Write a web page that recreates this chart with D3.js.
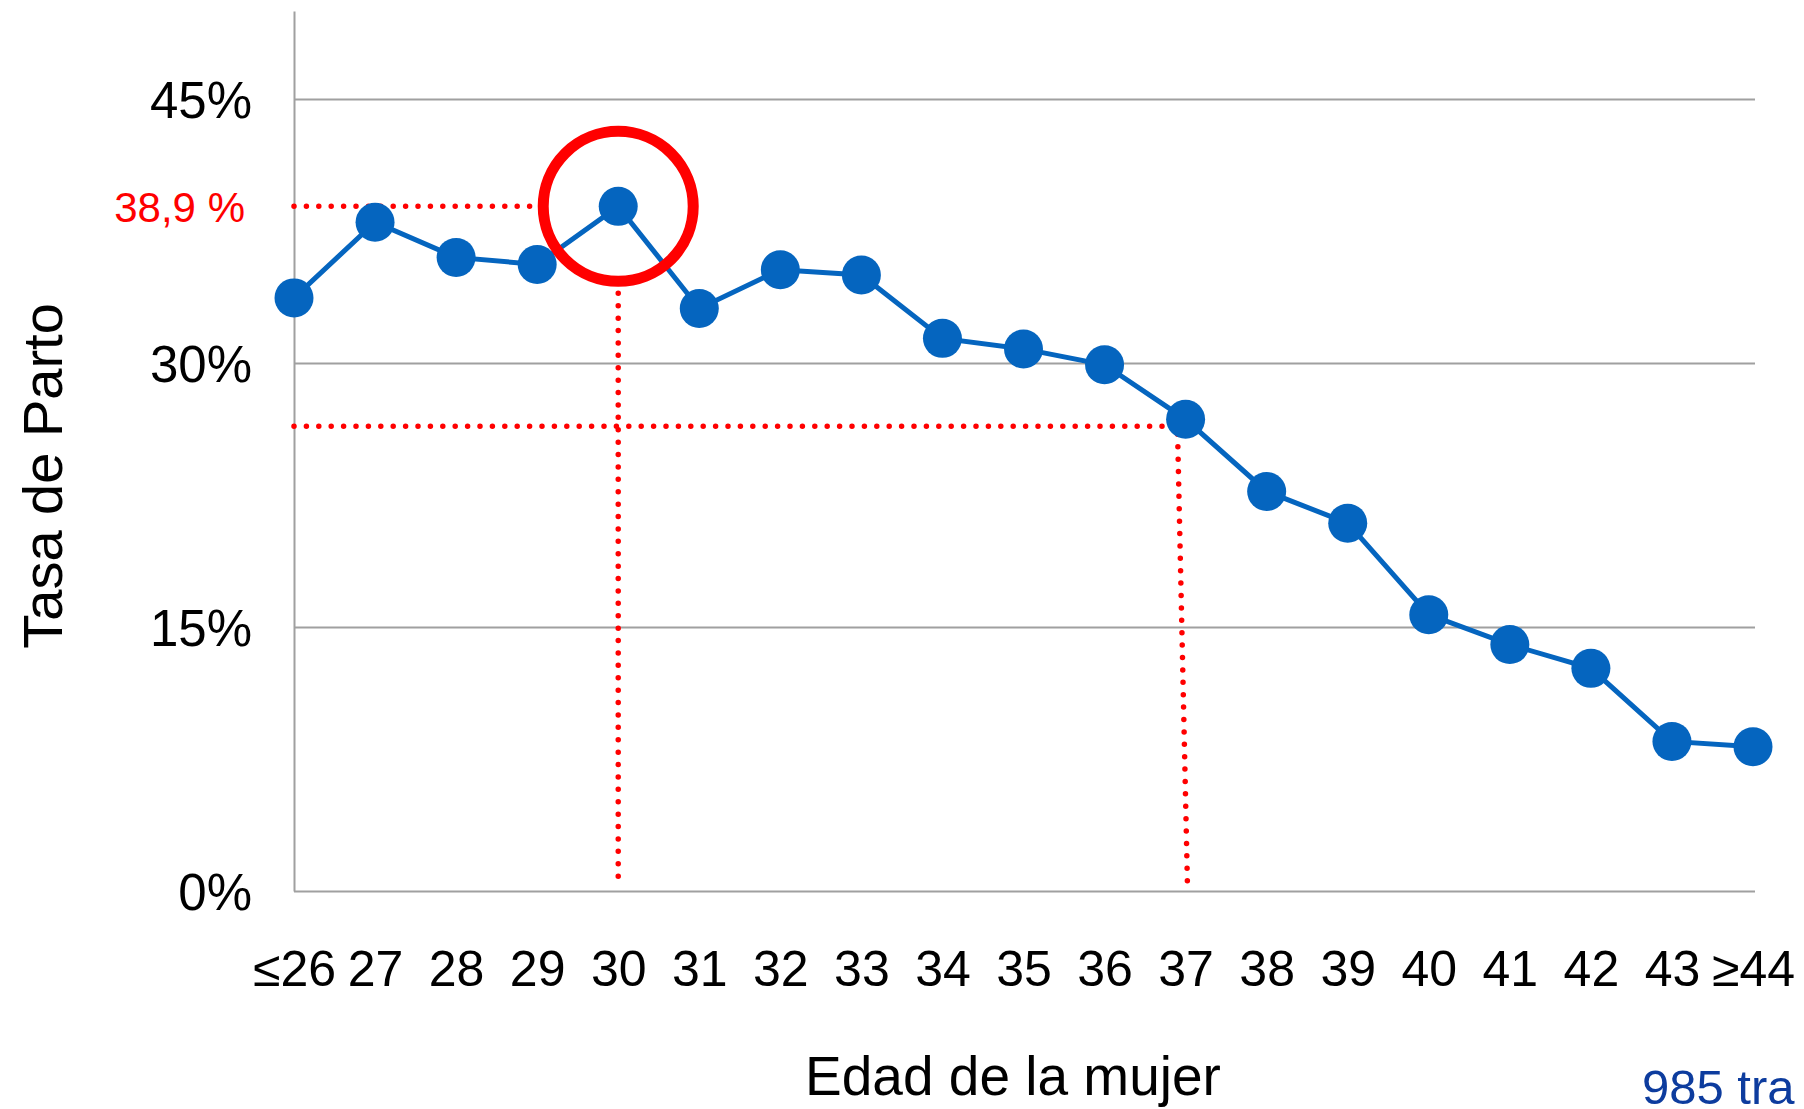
<!DOCTYPE html>
<html>
<head>
<meta charset="utf-8">
<script src="https://cdn.jsdelivr.net/npm/d3@7"></script>
<style>
  html, body { margin: 0; padding: 0; background: #fff; }
  svg { display: block; font-family: "Liberation Sans", Arial, sans-serif; }
</style>
</head>
<body>
<svg id="chart" width="1804" height="1109"></svg>
<script>
// ---- data ----
const categories = ["≤26","27","28","29","30","31","32","33","34","35","36","37","38","39","40","41","42","43","≥44"];
const birthRate = [33.7, 38.0, 36.0, 35.6, 38.9, 33.1, 35.3, 35.0, 31.4, 30.8, 29.9, 26.8, 22.7, 20.9, 15.7, 14.0, 12.65, 8.5, 8.2];
const yTicks = [0, 15, 30, 45];
const peakCategory = "30";
const peakValue = 38.9;
const peakLabel = "38,9 %";
const refCategory = "37";
const refValue = 26.4;
const yTitle = "Tasa de Parto";
const xTitle = "Edad de la mujer";
const noteText = "985 tra";

// ---- layout ----
const svg = d3.select("#chart");
const plotLeft = 294, plotRight = 1753, plotTop = 11, plotBottom = 891;
const gridRight = 1755;

const x = d3.scalePoint().domain(categories).range([plotLeft, plotRight]).padding(0);
const y = d3.scaleLinear().domain([0, 50]).range([plotBottom, plotTop]);

// y axis + gridlines
const yAxis = svg.append("g")
  .attr("transform", `translate(${plotLeft},0)`)
  .call(d3.axisLeft(y).tickValues(yTicks).tickFormat(d => d + "%")
    .tickSize(-(gridRight - plotLeft)).tickSizeOuter(0).tickPadding(42));
yAxis.select(".domain").attr("stroke", "#a0a0a0").attr("stroke-width", 2);
yAxis.selectAll(".tick line").attr("stroke", "#a0a0a0").attr("stroke-width", 2);
yAxis.selectAll(".tick text")
  .attr("font-size", 51).attr("fill", "#000").attr("dy", "0.37em")
  .attr("font-family", "Liberation Sans, Arial, sans-serif");

// x axis labels
const xAxis = svg.append("g")
  .attr("transform", `translate(0,${plotBottom})`)
  .call(d3.axisBottom(x).tickSize(0).tickPadding(59));
xAxis.select(".domain").remove();
xAxis.selectAll(".tick text")
  .attr("font-size", 50).attr("fill", "#000")
  .attr("font-family", "Liberation Sans, Arial, sans-serif");

// red dotted reference lines
const red = "#ff0000";
const dotted = g => g.attr("stroke", red).attr("stroke-width", 5.5)
  .attr("stroke-linecap", "round").attr("stroke-dasharray", "0 12.4").attr("fill", "none");

const ringR = 75;
svg.append("line").call(dotted)
  .attr("x1", plotLeft).attr("x2", x(peakCategory) - ringR - 12)
  .attr("y1", y(peakValue)).attr("y2", y(peakValue));
svg.append("line").call(dotted)
  .attr("x1", x(peakCategory)).attr("x2", x(peakCategory))
  .attr("y1", y(peakValue) + ringR + 12).attr("y2", plotBottom - 6);
svg.append("line").call(dotted)
  .attr("x1", plotLeft).attr("x2", x(refCategory) - 9)
  .attr("y1", y(refValue)).attr("y2", y(refValue));
svg.append("line").call(dotted)
  .attr("x1", x(refCategory) - 8).attr("x2", x(refCategory) + 2)
  .attr("y1", y(refValue) + 8).attr("y2", plotBottom + 1);

// series line
const blue = "#0565bf";
const pts = categories.map((c, i) => ({c, v: birthRate[i]}));
svg.append("path").datum(pts)
  .attr("fill", "none").attr("stroke", blue).attr("stroke-width", 5)
  .attr("d", d3.line().x(d => x(d.c)).y(d => y(d.v)));
svg.append("g").selectAll("circle").data(pts).join("circle")
  .attr("cx", d => x(d.c)).attr("cy", d => y(d.v)).attr("r", 19.5)
  .attr("fill", blue);

// red ring around peak
svg.append("circle")
  .attr("cx", x(peakCategory)).attr("cy", y(peakValue)).attr("r", ringR)
  .attr("fill", "none").attr("stroke", red).attr("stroke-width", 11);

// peak label
svg.append("text")
  .attr("x", 245).attr("y", y(peakValue)).attr("dy", "0.37em")
  .attr("text-anchor", "end").attr("font-size", 42).attr("fill", red)
  .text(peakLabel);

// axis titles
svg.append("text")
  .attr("transform", `translate(62,476) rotate(-90)`)
  .attr("text-anchor", "middle").attr("font-size", 56).attr("fill", "#000")
  .text(yTitle);
svg.append("text")
  .attr("x", 1013).attr("y", 1095)
  .attr("text-anchor", "middle").attr("font-size", 55).attr("fill", "#000")
  .text(xTitle);

// note
svg.append("text")
  .attr("x", 1642).attr("y", 1104)
  .attr("font-size", 49).attr("fill", "#0d3c9e")
  .text(noteText);
</script>
</body>
</html>
